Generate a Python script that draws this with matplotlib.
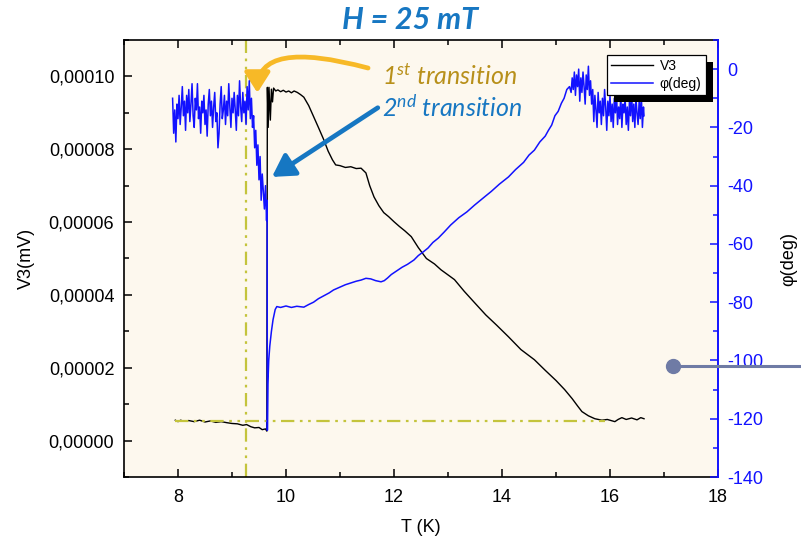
import matplotlib
matplotlib.use("Agg")
import matplotlib.pyplot as plt
from matplotlib.ticker import MultipleLocator, FuncFormatter
from matplotlib.patches import Rectangle, FancyArrowPatch

# V3 signal (left axis)
t_v3 = [7.95, 8.00, 8.05, 8.10, 8.20, 8.30, 8.40, 8.50, 8.60, 8.70, 8.80, 8.91,
        9.00, 9.10, 9.20, 9.27, 9.35, 9.42, 9.50, 9.56, 9.62, 9.645,
        9.655, 9.67, 9.685, 9.71, 9.73, 9.75, 9.77, 9.81,
        9.85, 9.90, 9.95, 10.00, 10.05, 10.10, 10.15, 10.21, 10.27, 10.33,
        10.42, 10.51, 10.60, 10.70, 10.78, 10.86, 10.92, 11.00, 11.10, 11.20,
        11.30, 11.39, 11.48, 11.55, 11.63, 11.72, 11.81, 11.90, 12.00, 12.10,
        12.20, 12.32, 12.45, 12.60, 12.75, 12.87, 13.00, 13.12, 13.30, 13.49,
        13.70, 13.90, 14.12, 14.35, 14.60, 14.80, 15.00, 15.16, 15.30, 15.40,
        15.48, 15.60, 15.72, 15.85, 15.95, 16.09, 16.15, 16.22, 16.30, 16.40,
        16.50, 16.57, 16.63]
v3 = [5.6e-6, 5.2e-6, 5.6e-6, 5.3e-6, 5.5e-6, 5.2e-6, 5.6e-6, 5.1e-6, 5.4e-6, 5.0e-6,
      5.2e-6, 4.9e-6, 4.7e-6, 4.6e-6, 4.2e-6, 4.4e-6, 3.8e-6, 3.5e-6, 3.6e-6, 3.0e-6,
      3.2e-6, 2.6e-6,
      9.7e-5, 8.6e-5, 9.7e-5, 8.8e-5, 9.65e-5, 9.3e-5, 9.68e-5, 9.6e-5,
      9.63e-5, 9.58e-5, 9.62e-5, 9.57e-5, 9.60e-5, 9.55e-5, 9.60e-5, 9.56e-5, 9.50e-5, 9.43e-5,
      9.20e-5, 8.90e-5, 8.60e-5, 8.26e-5, 7.95e-5, 7.71e-5, 7.57e-5, 7.55e-5, 7.50e-5, 7.52e-5,
      7.47e-5, 7.48e-5, 7.35e-5, 7.00e-5, 6.69e-5, 6.45e-5, 6.26e-5, 6.15e-5, 6.01e-5, 5.88e-5,
      5.76e-5, 5.60e-5, 5.30e-5, 5.00e-5, 4.85e-5, 4.69e-5, 4.55e-5, 4.42e-5, 4.10e-5, 3.79e-5,
      3.45e-5, 3.17e-5, 2.85e-5, 2.50e-5, 2.22e-5, 1.93e-5, 1.65e-5, 1.40e-5, 1.15e-5, 9.5e-6,
      7.96e-6, 6.8e-6, 6.0e-6, 5.6e-6, 5.8e-6, 5.2e-6, 5.8e-6, 6.3e-6, 5.8e-6, 6.2e-6,
      5.7e-6, 6.3e-6, 6.0e-6]

# phase (right axis), read in pieces
t_phi_low = [7.90, 7.92, 7.94, 7.96, 7.98, 8.00, 8.02, 8.04, 8.06, 8.08, 8.10, 8.12,
             8.14, 8.16, 8.18, 8.20, 8.22, 8.24, 8.26, 8.28, 8.30, 8.32, 8.34, 8.36,
             8.38, 8.40, 8.42, 8.44, 8.46, 8.48, 8.50, 8.52, 8.54, 8.56, 8.58, 8.60,
             8.62, 8.64, 8.66, 8.68, 8.70, 8.72, 8.74, 8.76, 8.78, 8.80, 8.82, 8.84,
             8.86, 8.88, 8.90, 8.92, 8.94, 8.96, 8.98, 9.00, 9.02, 9.04, 9.06, 9.08,
             9.10, 9.12, 9.14, 9.16, 9.18, 9.20, 9.22, 9.24, 9.26, 9.28, 9.30, 9.32, 9.34]
phi_low = [-10, -22, -14, -25, -12, -17, -9, -19, -13, -6, -16, -11,
           -21, -9, -15, -7, -18, -12, -5, -16, -20, -10, -14, -5,
           -17, -13, -22, -11, -15, -9, -19, -14, -23, -12, -7, -16,
           -11, -20, -13, -8, -18, -15, -27, -22, -12, -6, -17, -14,
           -9, -19, -11, -16, -5, -13, -20, -10, -15, -8, -14, -21,
           -9, -16, -4, -13, -18, -8, -15, -11, -19, -6, -14, -4, -17]
t_phi_drop = [9.36, 9.38, 9.40, 9.42, 9.44, 9.46, 9.48, 9.50, 9.52, 9.54, 9.56, 9.58,
              9.60, 9.62, 9.64, 9.65, 9.655, 9.665, 9.68, 9.70, 9.73, 9.76, 9.80, 9.83]
phi_drop = [-10, -20, -16, -27, -21, -33, -26, -38, -30, -45, -36, -42,
            -48, -40, -52, -45, -124, -108, -100, -95, -90, -86, -82.5, -81.5]
t_phi_rise = [9.90, 10.00, 10.10, 10.20, 10.33, 10.42, 10.51, 10.60, 10.70, 10.80,
              10.88, 11.00, 11.10, 11.20, 11.30, 11.39, 11.48, 11.57, 11.66, 11.76,
              11.82, 11.88, 11.95, 12.07, 12.15, 12.25, 12.37, 12.45, 12.55, 12.63,
              12.72, 12.82, 12.93, 13.05, 13.20, 13.35, 13.49, 13.60, 13.70, 13.80,
              13.95, 14.12, 14.25, 14.40, 14.50, 14.60, 14.70, 14.80, 14.86, 14.92,
              14.98, 15.04, 15.10, 15.15, 15.20, 15.25]
phi_rise = [-81.8, -81.3, -81.8, -81.4, -81.7, -80.8, -80.0, -78.8, -77.8, -76.8,
            -75.8, -74.8, -74.0, -73.4, -72.8, -72.4, -71.8, -72.0, -72.6, -73.0,
            -72.6, -71.7, -70.5, -69.0, -68.0, -67.0, -65.5, -64.0, -62.6, -61.4,
            -59.5, -58.0, -55.9, -53.5, -51.0, -49.0, -46.7, -45.0, -43.5, -42.0,
            -39.5, -37.0, -34.5, -32.0, -29.5, -27.8, -25.0, -23.0, -21.0, -19.2,
            -16.0, -14.5, -11.7, -10.0, -7.0, -6.0]
t_phi_high = [15.28, 15.30, 15.32, 15.34, 15.36, 15.38, 15.40, 15.42, 15.44, 15.46,
              15.48, 15.50, 15.52, 15.54, 15.56, 15.58, 15.60, 15.62, 15.64,
              15.66, 15.68, 15.70, 15.72, 15.74, 15.76, 15.78, 15.80, 15.82, 15.84,
              15.86, 15.88, 15.90, 15.92, 15.94, 15.96, 15.98, 16.00, 16.02, 16.04,
              16.06, 16.08, 16.10, 16.12, 16.14, 16.16, 16.18, 16.20, 16.22, 16.24,
              16.26, 16.28, 16.30, 16.32, 16.34, 16.36, 16.38, 16.40, 16.42, 16.44,
              16.46, 16.48, 16.50, 16.52, 16.54, 16.56, 16.58, 16.60, 16.62, 16.63]
phi_high = [-8, -3, -7, -1, -9, -2, -6, 0, -11, -3,
            -8, -1, -6, -12, -2, -7, 1, -9, -4,
            -12, -7, -18, -9, -14, -20, -8, -15, -11, -19,
            -10, -16, -7, -13, -21, -11, -16, -9, -18, -12,
            -20, -10, -15, -8, -19, -13, -17, -9, -20, -12,
            -15, -10, -19, -13, -21, -11, -16, -8, -18, -12,
            -20, -10, -15, -19, -11, -17, -9, -20, -13, -16]

t_phi = t_phi_low + t_phi_drop + t_phi_rise + t_phi_high
phi = phi_low + phi_drop + phi_rise + phi_high

# guide lines and marker
t_first = 9.26
v_base = 5.5e-6
t_base = [7.95, 15.9]
t_dot, phi_dot, t_edge = 17.17, -102, 19.6

OLIVE = "#c4c43c"
BLUE = "#1212ff"
TXT_BLUE = "#1777c2"
DASHDOT = (0, (6, 2.5, 1.2, 2.5, 1.2, 2.5))

plt.rcParams["font.family"] = ["Liberation Sans", "DejaVu Sans"]
plt.rcParams["axes.unicode_minus"] = False
plt.rcParams["mathtext.fontset"] = "custom"
plt.rcParams["mathtext.it"] = "Lato:italic"
plt.rcParams["mathtext.rm"] = "Lato"

fig = plt.figure(figsize=(8.01, 5.44), dpi=100)
ax = fig.add_axes([124 / 801, 1 - 477 / 544, 594 / 801, 437 / 544])
ax.set_facecolor("#fdf8ee")
ax2 = ax.twinx()

ln1, = ax.plot(t_v3, v3, color="black", lw=1.0, label="V3", zorder=3)
ax.axvline(t_first, color=OLIVE, lw=1.6, ls=DASHDOT, zorder=2)
ax.plot(t_base, [v_base, v_base], color=OLIVE, lw=1.6, ls=DASHDOT, zorder=4)
ln2, = ax2.plot(t_phi, phi, color=BLUE, lw=1.1, label="φ(deg)")

ax.set_xlim(7, 18)
ax.set_ylim(-1e-5, 1.1e-4)
ax2.set_ylim(-140, 10)

ax.xaxis.set_major_locator(MultipleLocator(2))
ax.xaxis.set_minor_locator(MultipleLocator(1))
ax.yaxis.set_major_locator(MultipleLocator(2e-5))
ax.yaxis.set_minor_locator(MultipleLocator(1e-5))
ax.yaxis.set_major_formatter(FuncFormatter(lambda v, p: f"{abs(v):.5f}".replace(".", ",")))
ax2.yaxis.set_major_locator(MultipleLocator(20))
ax2.yaxis.set_minor_locator(MultipleLocator(10))

ax.tick_params(which="both", direction="in", top=True, labelsize=13, width=1.1)
ax.tick_params(which="major", length=6)
ax.tick_params(which="minor", length=3.5)
ax.tick_params(axis="x", which="both", top=True, pad=9)
ax.tick_params(axis="y", right=False, pad=7)
ax2.tick_params(which="both", direction="in", colors=BLUE, labelsize=13, width=1.1, pad=7)
ax2.tick_params(which="major", length=6)
ax2.tick_params(which="minor", length=3.5)

for s in ["left", "bottom", "top"]:
    ax.spines[s].set_linewidth(1.2)
    ax2.spines[s].set_visible(False)
ax.spines["right"].set_visible(False)
ax2.spines["right"].set_color(BLUE)
ax2.spines["right"].set_linewidth(1.4)

ax.set_xlabel("T (K)", fontsize=13, labelpad=9)
ax.set_ylabel("V3(mV)", fontsize=13, labelpad=10)
ax2.set_ylabel("φ(deg)", fontsize=13, labelpad=12)

# legend with offset black shadow
leg = ax2.legend([ln1, ln2], ["V3", "φ(deg)"], loc="upper left",
                 bbox_to_anchor=(0.813, 0.966), borderaxespad=0, fancybox=False,
                 framealpha=1, edgecolor="black", fontsize=10, handlelength=3.0,
                 borderpad=0.3, labelspacing=0.3, handletextpad=0.5)
leg.get_frame().set_linewidth(0.9)
leg.set_zorder(6)
fig.canvas.draw()
bb = leg.get_window_extent().transformed(ax2.transAxes.inverted())
ax2.add_patch(Rectangle((bb.x0 + 7 / 594, bb.y0 - 7 / 437), bb.width, bb.height,
                        transform=ax2.transAxes, facecolor="black", edgecolor="none",
                        zorder=5, clip_on=False))

# grey marker reaching out of the plot
ax2.plot([t_dot, t_edge], [phi_dot, phi_dot], color="#6f7ba5", lw=2.2,
         clip_on=False, zorder=7, solid_capstyle="butt")
ax2.plot([t_dot], [phi_dot], "o", color="#6f7ba5", ms=10, clip_on=False, zorder=8)

# annotations
fig.text(0.512, 1 - 20 / 544, "H = 25 mT", ha="center", va="center", color=TXT_BLUE,
         fontsize=22, fontweight="bold", fontstyle="italic", family="Lato")
ax.text(11.78, 9.77e-5, r"1$^{st}$ transition", color="#b8901a", fontsize=18,
        fontstyle="italic", family="Lato", va="baseline")
ax.text(11.78, 8.89e-5, r"2$^{nd}$ transition", color=TXT_BLUE, fontsize=18,
        fontstyle="italic", family="Lato", va="baseline")
ax.add_patch(FancyArrowPatch((11.52, 1.023e-4), (9.47, 9.55e-5),
                             connectionstyle="angle3,angleA=165,angleB=90",
                             arrowstyle="-|>,head_length=0.55,head_width=0.35",
                             mutation_scale=22, lw=3.4, color="#f7b927",
                             shrinkA=0, shrinkB=0, zorder=7))
ax.add_patch(FancyArrowPatch((11.7, 9.14e-5), (9.74, 7.24e-5),
                             arrowstyle="-|>,head_length=0.6,head_width=0.35",
                             mutation_scale=22, lw=3.4, color="#1677c2",
                             shrinkA=0, shrinkB=0, zorder=7))

fig.savefig("out.png", dpi=100, facecolor="white")
